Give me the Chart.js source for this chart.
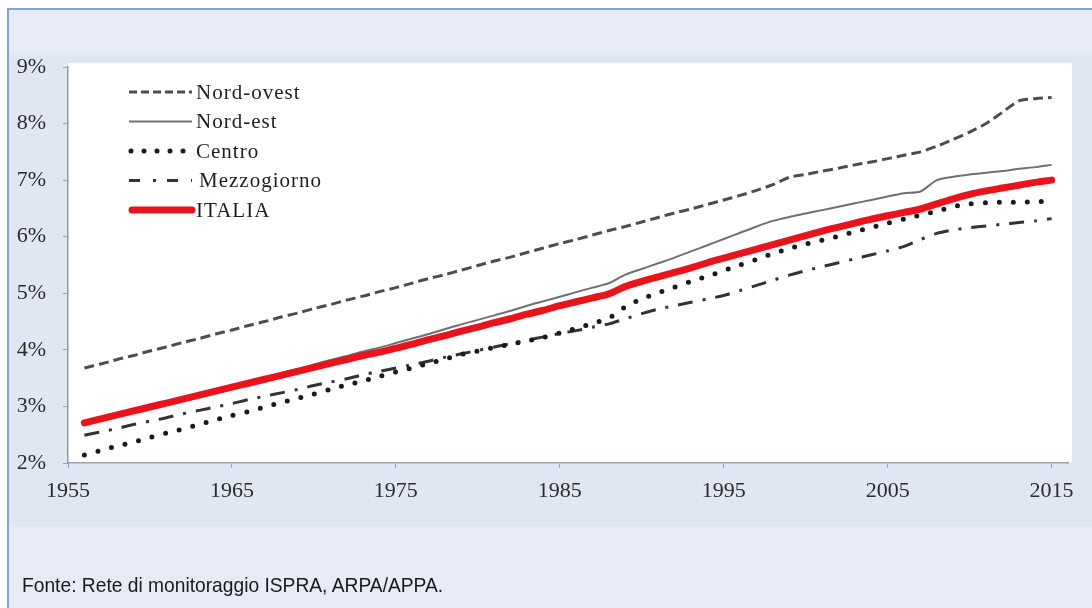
<!DOCTYPE html>
<html>
<head>
<meta charset="utf-8">
<script src="https://cdn.jsdelivr.net/npm/chart.js@4.4.1/dist/chart.umd.min.js"></script>
<style>
  html, body { margin: 0; padding: 0; background: #fff; }
  body { width: 1092px; height: 608px; position: relative; overflow: hidden; }
  .cornice { position: absolute; left: 7px; top: 8px; width: 1100px; height: 620px;
    border-left: 2px solid #7fa2d8; border-top: 2px solid #7fa2d8; background: #e6ebf6; }
  .riquadro { position: absolute; left: 9px; top: 53px; width: 1083px; height: 474px; background: #e0e6f2; }
  #grafico { position: absolute; left: 0; top: 0; }
  .fonte { position: absolute; left: 22px; top: 573px; color: #1a1a1a; white-space: nowrap;
    font-family: "Liberation Sans", Arial, sans-serif; font-size: 21px;
    transform: scaleX(0.915); transform-origin: 0 0; }
</style>
</head>
<body>
<div class="cornice"></div>
<div class="riquadro"></div>
<canvas id="grafico" width="1092" height="608"></canvas>
<div class="fonte">Fonte: Rete di monitoraggio ISPRA, ARPA/APPA.</div>
<script>
// anni 1956-2015
const anni = [1956, 1957, 1958, 1959, 1960, 1961, 1962, 1963, 1964, 1965,
  1966, 1967, 1968, 1969, 1970, 1971, 1972, 1973, 1974, 1975,
  1976, 1977, 1978, 1979, 1980, 1981, 1982, 1983, 1984, 1985,
  1986, 1987, 1988, 1989, 1990, 1991, 1992, 1993, 1994, 1995,
  1996, 1997, 1998, 1999, 2000, 2001, 2002, 2003, 2004, 2005,
  2006, 2007, 2008, 2009, 2010, 2011, 2012, 2013, 2014, 2015];

const nordOvest = [3.68, 3.75, 3.83, 3.90, 3.98, 4.05, 4.13, 4.20, 4.28, 4.35,
  4.43, 4.50, 4.58, 4.65, 4.73, 4.80, 4.88, 4.95, 5.03, 5.10,
  5.18, 5.26, 5.33, 5.41, 5.49, 5.57, 5.64, 5.72, 5.80, 5.88,
  5.95, 6.03, 6.11, 6.18, 6.26, 6.34, 6.42, 6.49, 6.57, 6.65,
  6.73, 6.82, 6.92, 7.05, 7.10, 7.16, 7.21, 7.27, 7.32, 7.38,
  7.44, 7.50, 7.60, 7.72, 7.85, 8.00, 8.20, 8.40, 8.44, 8.46];

const nordEst = [2.69, 2.76, 2.84, 2.91, 2.99, 3.06, 3.14, 3.21, 3.29, 3.36,
  3.44, 3.51, 3.59, 3.66, 3.74, 3.82, 3.89, 3.97, 4.04, 4.12,
  4.20, 4.28, 4.37, 4.45, 4.53, 4.61, 4.69, 4.78, 4.86, 4.94,
  5.02, 5.10, 5.18, 5.33, 5.43, 5.53, 5.63, 5.74, 5.85, 5.96,
  6.07, 6.18, 6.28, 6.35, 6.41, 6.47, 6.53, 6.59, 6.65, 6.71,
  6.77, 6.80, 7.00, 7.06, 7.10, 7.13, 7.16, 7.20, 7.23, 7.27];

const centro = [2.14, 2.22, 2.30, 2.37, 2.45, 2.53, 2.60, 2.68, 2.76, 2.84,
  2.91, 2.99, 3.07, 3.14, 3.22, 3.30, 3.38, 3.45, 3.53, 3.61,
  3.68, 3.76, 3.84, 3.92, 3.98, 4.04, 4.10, 4.16, 4.22, 4.30,
  4.38, 4.47, 4.56, 4.76, 4.90, 5.01, 5.11, 5.21, 5.30, 5.40,
  5.50, 5.60, 5.70, 5.79, 5.87, 5.94, 6.01, 6.09, 6.16, 6.24,
  6.31, 6.38, 6.45, 6.53, 6.58, 6.60, 6.61, 6.61, 6.62, 6.62];

const mezzogiorno = [2.49, 2.55, 2.61, 2.68, 2.74, 2.80, 2.87, 2.93, 2.99, 3.05,
  3.12, 3.18, 3.24, 3.30, 3.37, 3.43, 3.49, 3.56, 3.62, 3.68,
  3.74, 3.80, 3.87, 3.93, 3.99, 4.05, 4.11, 4.17, 4.23, 4.29,
  4.34, 4.40, 4.46, 4.55, 4.64, 4.72, 4.78, 4.84, 4.90, 4.96,
  5.05, 5.14, 5.23, 5.32, 5.40, 5.47, 5.54, 5.61, 5.68, 5.75,
  5.83, 5.95, 6.06, 6.12, 6.16, 6.19, 6.22, 6.25, 6.28, 6.32];

const italia = [2.71, 2.78, 2.85, 2.92, 2.99, 3.06, 3.13, 3.20, 3.27, 3.34,
  3.41, 3.48, 3.55, 3.62, 3.69, 3.76, 3.83, 3.90, 3.96, 4.03,
  4.10, 4.18, 4.25, 4.33, 4.40, 4.48, 4.55, 4.63, 4.70, 4.78,
  4.85, 4.92, 4.99, 5.12, 5.21, 5.29, 5.37, 5.45, 5.54, 5.62,
  5.70, 5.78, 5.86, 5.94, 6.02, 6.10, 6.17, 6.24, 6.31, 6.37,
  6.43, 6.49, 6.58, 6.67, 6.75, 6.81, 6.86, 6.91, 6.96, 7.00];

const tickAnni = [1955, 1965, 1975, 1985, 1995, 2005, 2015];
const tickPercento = [2, 3, 4, 5, 6, 7, 8, 9];

function punti(valori) {
  return anni.map((a, i) => ({x: a, y: valori[i]}));
}

// sfondo bianco dell'area del grafico
const sfondoPlot = {
  id: 'sfondoPlot',
  beforeDraw(chart) {
    const {ctx, chartArea} = chart;
    ctx.save();
    ctx.fillStyle = '#ffffff';
    ctx.fillRect(chartArea.left, chartArea.top - 4, chartArea.right - chartArea.left + 4, chartArea.bottom - chartArea.top + 4);
    ctx.restore();
  }
};

// legenda disegnata a mano, come nell'originale
const legenda = {
  id: 'legenda',
  afterDraw(chart) {
    const ctx = chart.ctx;
    chart.data.datasets.forEach((ds, i) => {
      const y = 92 + i * 29.5;
      ctx.save();
      ctx.strokeStyle = ds.borderColor;
      ctx.lineWidth = ds.borderWidth;
      ctx.lineCap = ds.borderCapStyle || 'butt';
      ctx.setLineDash(ds.legendDash || ds.borderDash || []);
      ctx.beginPath();
      ctx.moveTo(ds.legendStart || 129, y);
      ctx.lineTo(192, y);
      ctx.stroke();
      ctx.restore();
      ctx.save();
      ctx.fillStyle = '#1e1e1e';
      ctx.font = '21px "Liberation Serif", "Times New Roman", serif';
      ctx.letterSpacing = '1px';
      ctx.textBaseline = 'middle';
      ctx.fillText(ds.label, ds.label === 'Mezzogiorno' ? 199 : 196, y + 1);
      ctx.restore();
    });
  }
};

new Chart(document.getElementById('grafico'), {
  type: 'line',
  data: {
    datasets: [
      {label: 'Nord-ovest', data: punti(nordOvest), borderColor: '#4d4d4d', borderWidth: 3,
       borderDash: [10, 5], legendDash: [8, 4], order: 2},
      {label: 'Nord-est', data: punti(nordEst), borderColor: '#707070', borderWidth: 2, order: 3},
      {label: 'Centro', data: punti(centro), borderColor: '#1a1a1a', borderWidth: 5,
       borderDash: [0, 14], borderCapStyle: 'round', legendDash: [0, 13], legendStart: 131, order: 1},
      {label: 'Mezzogiorno', data: punti(mezzogiorno), borderColor: '#333333', borderWidth: 3,
       borderDash: [15, 10, 3, 10], legendDash: [11, 13, 3, 11], order: 4},
      {label: 'ITALIA', data: punti(italia), borderColor: '#e8131b', borderWidth: 7,
       borderCapStyle: 'round', legendStart: 132, order: 0}
    ]
  },
  options: {
    responsive: false,
    animation: false,
    elements: {point: {radius: 0}, line: {tension: 0.25}},
    layout: {padding: {left: 0, right: 24, top: 67, bottom: 100}},
    plugins: {legend: {display: false}, tooltip: {enabled: false}},
    scales: {
      x: {
        type: 'linear', min: 1955, max: 2016,
        afterBuildTicks: s => { s.ticks = tickAnni.map(v => ({value: v})); },
        afterFit: s => { s.height = 45; },
        ticks: {font: {family: 'Liberation Serif', size: 22}, color: '#2b2b2b', padding: 10,
                maxRotation: 0, autoSkip: false, callback: v => String(v)},
        grid: {drawOnChartArea: false, tickLength: 5, color: '#9aa3b3'},
        border: {color: '#97a1b2', width: 1.5}
      },
      y: {
        min: 2, max: 9,
        afterBuildTicks: s => { s.ticks = tickPercento.map(v => ({value: v})); },
        afterFit: s => { s.width = 68; },
        ticks: {font: {family: 'Liberation Serif', size: 22}, color: '#2b2b2b', padding: 17,
                callback: v => v + '%'},
        grid: {drawOnChartArea: false, tickLength: 5, color: '#9aa3b3'},
        border: {color: '#8f98a8', width: 1.5}
      }
    }
  },
  plugins: [sfondoPlot, legenda]
});
</script>
</body>
</html>
